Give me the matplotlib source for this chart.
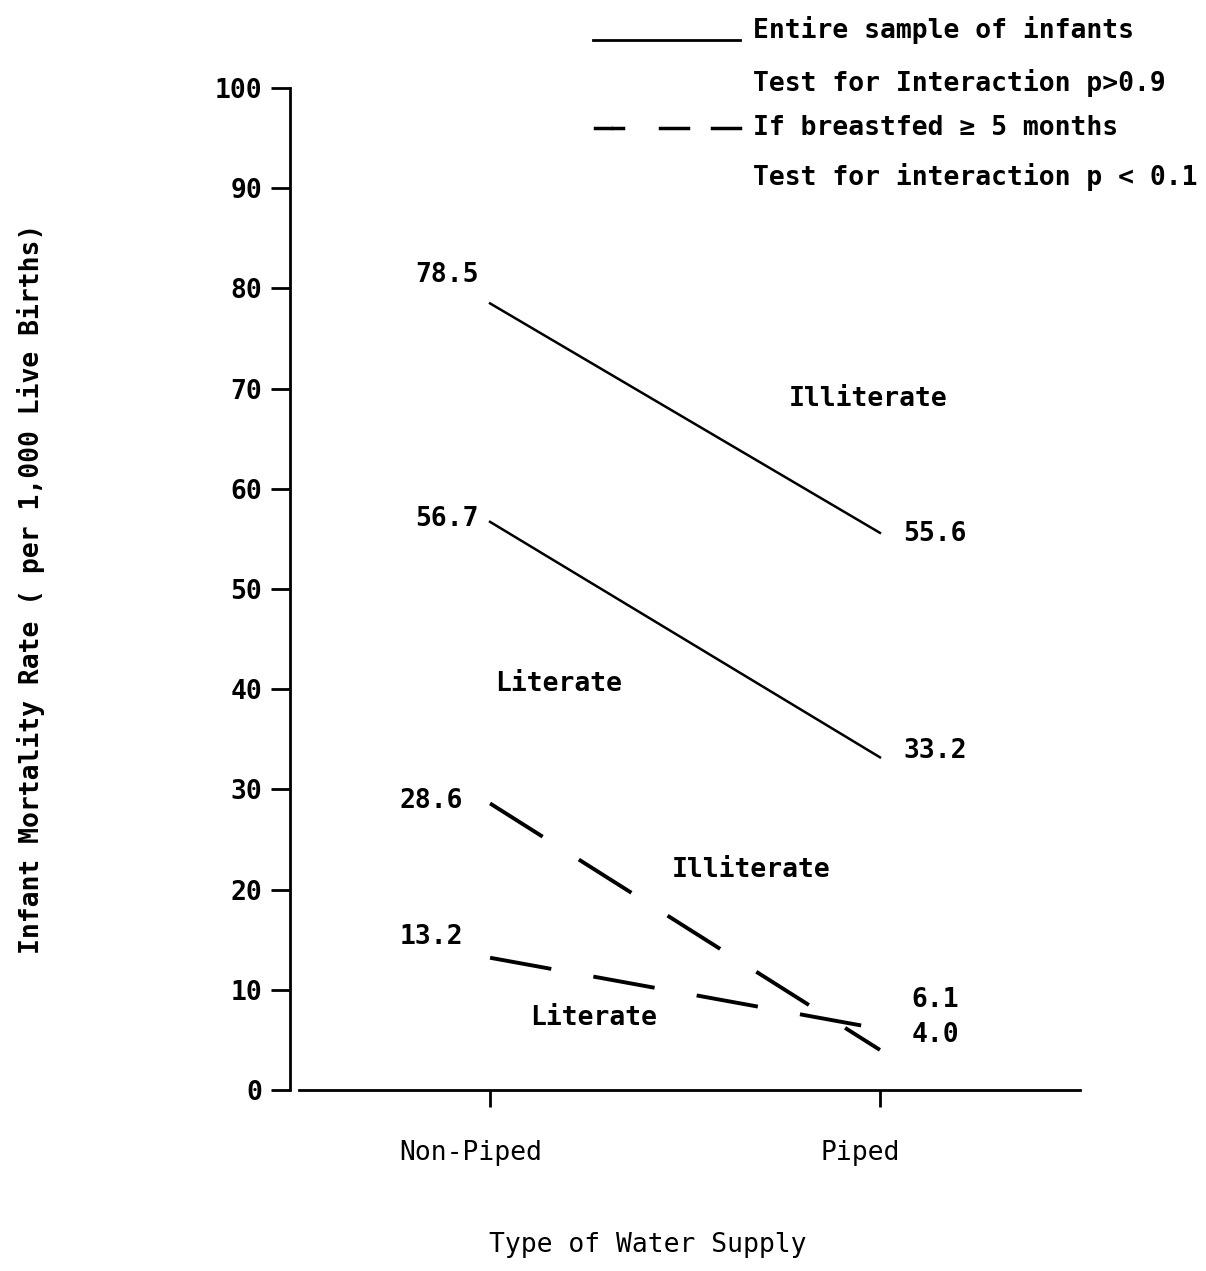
import matplotlib
matplotlib.use("Agg")
import matplotlib.pyplot as plt
from matplotlib.lines import Line2D

# data
water = ["Non-Piped", "Piped"]
illiterate_all = [78.5, 55.6]
literate_all = [56.7, 33.2]
illiterate_bf = [28.6, 4.0]
literate_bf = [13.2, 6.1]
yticks = [0, 10, 20, 30, 40, 50, 60, 70, 80, 90, 100]

plt.rcParams['font.family'] = ['DejaVu Sans Mono', 'DejaVu Sans']
plt.rcParams['font.weight'] = 'bold'
fs = 19

fig = plt.figure(figsize=(12.06, 12.71), dpi=100)
ax = fig.add_axes([0.2405, 0.1424, 0.655, 0.7884])

xs = [0, 1]
ax.plot(xs, illiterate_all, color='black', lw=1.8)
ax.plot(xs, literate_all, color='black', lw=1.8)
ax.plot(xs, illiterate_bf, color='black', lw=2.8, dashes=(16, 11))
ax.plot(xs, literate_bf, color='black', lw=2.8, dashes=(16, 11))

ax.set_xlim(-0.513, 1.513)
ax.set_ylim(0, 100)
ax.spines['top'].set_visible(False)
ax.spines['right'].set_visible(False)
for s in ('left', 'bottom'):
    ax.spines[s].set_linewidth(2)
ax.spines['bottom'].set_bounds(-0.49, 1.513)

ax.set_yticks(yticks)
ax.set_yticklabels([str(t) for t in yticks], fontsize=fs)
ax.tick_params(axis='y', length=14, width=2, pad=6)
ax.set_xticks(xs)
ax.set_xticklabels([])
ax.tick_params(axis='x', length=12, width=2, direction='out')

# category labels, a bit left of the ticks as in the scan
for x, name in zip(xs, water):
    ax.text(x - 0.05, -6.3, name, ha='center', va='center', fontsize=fs, weight='normal')

# value labels
ax.text(-0.03, illiterate_all[0] + 2.8, f"{illiterate_all[0]}", ha='right', va='center', fontsize=fs)
ax.text(-0.03, literate_all[0] + 0.3, f"{literate_all[0]}", ha='right', va='center', fontsize=fs)
ax.text(1.06, illiterate_all[1] - 0.1, f"{illiterate_all[1]}", ha='left', va='center', fontsize=fs)
ax.text(1.06, literate_all[1] + 0.6, f"{literate_all[1]}", ha='left', va='center', fontsize=fs)
ax.text(-0.07, illiterate_bf[0] + 0.2, f"{illiterate_bf[0]}", ha='right', va='center', fontsize=fs)
ax.text(-0.07, literate_bf[0] + 2.1, f"{literate_bf[0]}", ha='right', va='center', fontsize=fs)
ax.text(1.08, literate_bf[1] + 2.9, f"{literate_bf[1]}", ha='left', va='center', fontsize=fs)
ax.text(1.08, illiterate_bf[1] + 1.5, f"{illiterate_bf[1]}", ha='left', va='center', fontsize=fs)

# group labels
ax.text(0.97, 69.0, "Illiterate", ha='center', va='center', fontsize=fs)
ax.text(0.175, 40.5, "Literate", ha='center', va='center', fontsize=fs)
ax.text(0.67, 22.0, "Illiterate", ha='center', va='center', fontsize=fs)
ax.text(0.265, 7.2, "Literate", ha='center', va='center', fontsize=fs)

ax.set_ylabel("Infant Mortality Rate ( per 1,000 Live Births)", fontsize=fs, weight='bold')
ax.yaxis.set_label_coords(-0.31, 0.5)
fig.text(648 / 1206, 1 - 1245 / 1271, "Type of Water Supply", ha='center', va='center',
         fontsize=fs, weight='normal')

# legend drawn by hand, laid out like the scan
W, H = 1206, 1271
fig.add_artist(Line2D([593 / W, 740 / W], [1 - 40 / H] * 2, color='black', lw=2, transform=fig.transFigure))
for x0, x1 in [(595, 611), (613, 623), (660, 688), (712, 740)]:
    fig.add_artist(Line2D([x0 / W, x1 / W], [1 - 128 / H] * 2, color='black', lw=2.5, transform=fig.transFigure))
legend_rows = [(30, "Entire sample of infants"),
               (83, "Test for Interaction p>0.9"),
               (128, "If breastfed \u2265 5 months"),
               (177, "Test for interaction p < 0.1")]
for y, txt in legend_rows:
    fig.text(753 / W, 1 - y / H, txt, ha='left', va='center', fontsize=fs)

fig.savefig("out.png", dpi=100)
